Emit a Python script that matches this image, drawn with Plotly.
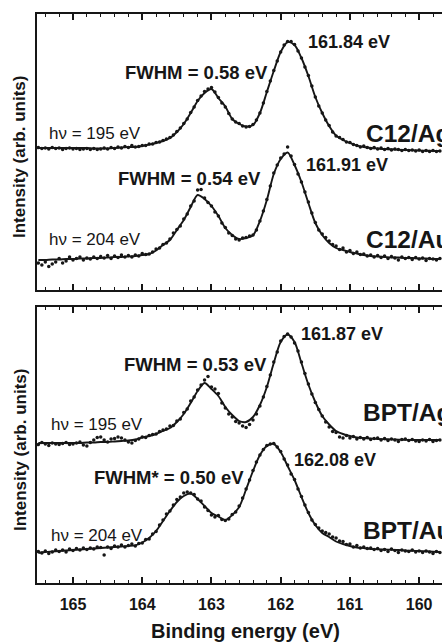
import plotly.graph_objects as go

# Energy grid of the fitted curves (eV)
FIT_E = [165.5, 165.4, 165.3, 165.2, 165.1, 165.0, 164.9, 164.8, 164.7, 164.6,
         164.5, 164.4, 164.3, 164.2, 164.1, 164.0, 163.9, 163.8, 163.7, 163.6,
         163.5, 163.4, 163.3, 163.2, 163.1, 163.0, 162.9, 162.8, 162.7, 162.6,
         162.5, 162.4, 162.3, 162.2, 162.1, 162.0, 161.9, 161.8, 161.7, 161.6,
         161.5, 161.4, 161.3, 161.2, 161.1, 161.0, 160.9, 160.8, 160.7, 160.6,
         160.5, 160.4, 160.3, 160.2, 160.1, 160.0, 159.9, 159.8, 159.7]

# Energy grid of the measured points (eV)
DOT_E = [165.50, 165.45, 165.40, 165.35, 165.30, 165.25, 165.20, 165.15, 165.10, 165.05,
         165.00, 164.95, 164.90, 164.85, 164.80, 164.75, 164.70, 164.65, 164.60, 164.55,
         164.50, 164.45, 164.40, 164.35, 164.30, 164.25, 164.20, 164.15, 164.10, 164.05,
         164.00, 163.95, 163.90, 163.85, 163.80, 163.75, 163.70, 163.65, 163.60, 163.55,
         163.50, 163.45, 163.40, 163.35, 163.30, 163.25, 163.20, 163.15, 163.10, 163.05,
         163.00, 162.95, 162.90, 162.85, 162.80, 162.75, 162.70, 162.65, 162.60, 162.55,
         162.50, 162.45, 162.40, 162.35, 162.30, 162.25, 162.20, 162.15, 162.10, 162.05,
         162.00, 161.95, 161.90, 161.85, 161.80, 161.75, 161.70, 161.65, 161.60, 161.55,
         161.50, 161.45, 161.40, 161.35, 161.30, 161.25, 161.20, 161.15, 161.10, 161.05,
         161.00, 160.95, 160.90, 160.85, 160.80, 160.75, 160.70, 160.65, 160.60, 160.55,
         160.50, 160.45, 160.40, 160.35, 160.30, 160.25, 160.20, 160.15, 160.10, 160.05,
         160.00, 159.95, 159.90, 159.85, 159.80, 159.75, 159.70]

# ---------- upper panel ----------
C12_AG_FIT = [142, 142, 142, 142, 142, 142, 142, 142, 141.5, 141.5,
              141.5, 142, 142.5, 143, 143, 144, 145.4, 147, 149, 152,
              158, 166, 177, 189, 197, 201, 192, 183.5, 171, 166,
              163.5, 165, 177, 198, 219, 238, 248, 245, 232, 214,
              193, 177, 164, 154.4, 150, 147, 144.4, 143, 142, 141.5,
              141, 140.7, 140.3, 140, 139.7, 139.5, 139.3, 139, 139]
C12_AG_DOTS = [142.5, 141.5, 142, 141, 142.5, 141.5, 142, 140.5, 141.5, 142,
               141, 141.5, 140.5, 141, 141.5, 140.5, 141.5, 140.5, 141, 142,
               141, 142.5, 141.5, 143, 142, 143.5, 142.5, 144.5, 143, 143.5,
               144.5, 144.5, 146, 146, 147.5, 148, 149.5, 151, 152.5, 155,
               158.5, 162, 166.5, 171, 177.5, 183, 189.5, 194, 198.5, 201,
               202.5, 198, 192.5, 187, 183, 176.5, 171, 168, 166.5, 164,
               163, 163.5, 165.5, 170, 177, 187, 198.5, 209, 219.5, 229,
               238, 245, 248.5, 248.5, 245.5, 239, 232, 223, 214.5, 204,
               193, 184, 177, 170, 164.5, 158, 154, 152.5, 150.5, 148,
               147.5, 145.5, 144.5, 143, 144, 142.5, 141.5, 142.5, 141, 142,
               140.5, 141.5, 140, 141, 140.5, 139.5, 140.5, 139.5, 140, 139,
               140, 138.5, 139.5, 138.5, 139.5, 138.5, 139]

C12_AU_FIT = [30, 30, 30.5, 30.5, 31, 31, 31.5, 31.5, 32, 32,
              32.5, 33, 33, 33.5, 34, 35, 36, 39.5, 45, 50,
              60, 70, 83, 95, 91, 84, 74, 62, 55, 51,
              52, 54.7, 69, 90, 116, 131, 137.5, 125, 108, 87,
              67, 55, 47, 42, 40, 38, 36.5, 35, 34, 33.5,
              33, 32.5, 32.5, 32, 32, 31.5, 31.5, 31, 31]
C12_AU_DOTS = [27, 25, 28, 23.5, 26, 28, 31.5, 27, 29, 33,
               30, 31.5, 33, 30, 32, 31, 33, 31.5, 33.5, 32,
               34.5, 31.5, 34, 32.5, 35, 33, 34.5, 33, 35, 34,
               36.5, 35.5, 36, 38, 41, 42, 45.5, 47, 51, 57,
               60.5, 64, 71, 76, 84, 89, 100, 100.5, 92, 87.5,
               84, 78, 74, 67, 62.5, 57, 54.5, 51, 50, 52,
               52.5, 54, 55, 60, 69, 79, 90.5, 104, 117, 125,
               132, 136, 143, 134, 125.5, 116, 108, 98, 88, 77,
               67.5, 60, 56, 52.5, 49, 45.5, 44, 40.5, 42, 38,
               39.5, 36.5, 38, 35.5, 36, 34, 35, 33, 34.5, 32.5,
               34, 31.5, 33.5, 32, 30, 33, 31.5, 32.5, 30.5, 32.5,
               31, 32, 29.5, 31.5, 31, 30, 31.5]

# ---------- lower panel ----------
BPT_AG_FIT = [140, 140, 140, 140, 140, 140, 140, 140.5, 140.5, 141,
              141, 141.5, 142, 142.5, 143.5, 145.5, 147, 149, 152, 155,
              161, 169, 180, 192, 200, 194, 187, 176, 168, 162,
              161, 166, 178, 196, 220, 241, 248.5, 241, 220, 198.5,
              181, 167, 158.5, 152, 149, 147, 145.5, 145, 144.5, 144,
              143.8, 143.6, 143.4, 143.2, 143, 143, 143, 143, 143]
BPT_AG_DOTS = [138.5, 140.5, 139, 137.5, 140, 139, 138.5, 139.5, 140.5, 138.5,
               139, 140, 141, 138, 137, 140.5, 143, 145.5, 146, 143,
               141, 144, 144.5, 146, 145, 143, 141, 140, 142.5, 144,
               146, 145.5, 147.5, 148.5, 149, 151.5, 153, 154, 157, 157.5,
               162, 164, 170.5, 174, 182, 186, 193, 198, 203, 206.5,
               196, 194, 189.5, 180, 175, 169, 166, 161.5, 160, 157,
               155.5, 158.5, 163, 169, 177, 186, 196.5, 208, 221, 231,
               242, 246.5, 249, 246, 240, 232, 221, 209.5, 199, 189,
               180.5, 173.5, 167, 161, 156, 151.5, 150.5, 146, 145, 147.5,
               145, 146.5, 144, 145.5, 144, 145.5, 143.5, 144.5, 145, 143,
               144.5, 142.5, 144, 143, 141.5, 143.5, 144, 142.5, 143.5, 142,
               141.5, 143, 142, 143.5, 141.5, 142.5, 143]

BPT_AU_FIT = [30, 31, 31.5, 32, 32.5, 33, 33.5, 34, 34.5, 35,
              35.5, 36, 36.5, 37, 37.7, 40.5, 45, 52, 62, 72,
              81, 87, 89.5, 84, 77, 70, 66.5, 63, 68, 76,
              93.5, 112, 128, 137, 139, 131, 117, 103, 86, 70,
              58, 50, 46, 41.5, 39, 37, 35.5, 35, 34, 33.8,
              33.5, 33.2, 33, 32.5, 32.2, 32, 31.7, 31.3, 31]
BPT_AU_DOTS = [31.5, 30, 32, 29.5, 31, 33, 31.5, 33, 31, 34,
               32.5, 34.5, 33, 35, 33.5, 35, 34, 36, 35.5, 28,
               36, 34.5, 37, 36, 38, 36, 37.5, 39, 37, 39.5,
               40, 43.5, 44, 49, 51.5, 58, 63, 69, 72, 78,
               83.5, 86, 90, 91, 90, 88.5, 84, 82, 76, 72.5,
               68, 66, 67.5, 63.5, 62.5, 64, 68.5, 71, 77, 85,
               94, 103, 112.5, 121, 128, 133.5, 137.5, 139, 139.5, 136,
               131.5, 124, 118, 109, 103.5, 94, 86.5, 78, 70.5, 63,
               58.5, 55, 52, 50.5, 49, 46, 45, 42, 41.5, 38.5,
               39, 36, 37.5, 35, 36, 34.5, 35, 33.5, 34.5, 32.5,
               33.5, 31.5, 34, 32.5, 30.5, 33, 32, 31.5, 33, 31,
               32, 30.5, 32, 31, 29.5, 31.5, 30.5]

X_TICKS = [165, 164, 163, 162, 161, 160]
X_TICK_TEXT = ["165", "164", "163", "162", "161", "160"]

INK = "#161616"
FONT = "Liberation Sans, Arial, sans-serif"

fig = go.Figure()
series = [
    (C12_AG_DOTS, C12_AG_FIT, "x", "y"),
    (C12_AU_DOTS, C12_AU_FIT, "x", "y"),
    (BPT_AG_DOTS, BPT_AG_FIT, "x2", "y2"),
    (BPT_AU_DOTS, BPT_AU_FIT, "x2", "y2"),
]
for dots, fit, xa, ya in series:
    fig.add_trace(go.Scatter(x=DOT_E, y=dots, mode="markers",
                             marker=dict(size=3.5, color=INK),
                             xaxis=xa, yaxis=ya, showlegend=False, hoverinfo="skip"))
    fig.add_trace(go.Scatter(x=FIT_E, y=fit, mode="lines",
                             line=dict(color=INK, width=1.9, shape="spline", smoothing=0.8),
                             xaxis=xa, yaxis=ya, showlegend=False, hoverinfo="skip"))

W, H = 442, 644
m_l, m_r, m_t, m_b = 37, 0, 14, 61
plot_h = H - m_t - m_b
panel_h = 276
d_top = [1 - panel_h / plot_h, 1]
d_bot = [0, panel_h / plot_h]

xcommon = dict(range=[165.52, 159.67], showline=True, linecolor=INK, linewidth=1.8,
               mirror="ticks", ticks="inside", ticklen=6, tickwidth=1.5, tickcolor=INK,
               tickvals=X_TICKS, ticktext=X_TICK_TEXT,
               minor=dict(dtick=0.2, tick0=160, ticks="inside", ticklen=3,
                          tickwidth=1.3, tickcolor=INK, showgrid=False),
               showgrid=False, zeroline=False, fixedrange=True)
ycommon = dict(range=[0, panel_h], showline=True, linecolor=INK, linewidth=1.8,
               mirror=False, ticks="", showticklabels=False, showgrid=False,
               zeroline=False, fixedrange=True)

fig.update_layout(
    width=W, height=H,
    margin=dict(l=m_l, r=m_r, t=m_t, b=m_b),
    paper_bgcolor="white", plot_bgcolor="white",
    font=dict(family=FONT, color=INK),
    xaxis=dict(xcommon, anchor="y", showticklabels=False),
    xaxis2=dict(xcommon, anchor="y2", showticklabels=True, ticklabelstandoff=6,
                tickfont=dict(family=FONT, size=16, color=INK, weight="bold")),
    yaxis=dict(ycommon, domain=d_top, anchor="x"),
    yaxis2=dict(ycommon, domain=d_bot, anchor="x2"),
)

def lab(text, x, y, xref, yref, size, bold=True, xanchor="left"):
    fig.add_annotation(text=text, x=x, y=y, xref=xref, yref=yref, showarrow=False,
                       xanchor=xanchor, yanchor="middle",
                       font=dict(family=FONT, size=size, color=INK,
                                 weight="bold" if bold else "normal"))

# upper panel labels
lab("161.84 eV", 161.64, 248, "x", "y", 18)
lab("FWHM = 0.58 eV", 163.215, 218, "x", "y", 18.5, xanchor="center")
lab("hν = 195 eV", 165.37, 157, "x", "y", 17, bold=False)
lab("C12/Ag", 160.79, 157, "x", "y", 24.5)
lab("161.91 eV", 161.67, 125, "x", "y", 18)
lab("FWHM = 0.54 eV", 163.316, 112, "x", "y", 18.5, xanchor="center")
lab("hν = 204 eV", 165.37, 51, "x", "y", 17, bold=False)
lab("C12/Au", 160.79, 51, "x", "y", 24.5)
# lower panel labels
lab("161.87 eV", 161.74, 249, "x2", "y2", 18)
lab("FWHM = 0.53 eV", 163.237, 218, "x2", "y2", 18.5, xanchor="center")
lab("hν = 195 eV", 165.34, 158, "x2", "y2", 17, bold=False)
lab("BPT/Ag", 160.84, 170, "x2", "y2", 24.5)
lab("162.08 eV", 161.84, 123, "x2", "y2", 18)
lab("FWHM* = 0.50 eV", 163.613, 105, "x2", "y2", 18.5, xanchor="center")
lab("hν = 204 eV", 165.34, 48, "x2", "y2", 17, bold=False)
lab("BPT/Au", 160.84, 53, "x2", "y2", 24.5)

# axis titles
plot_w = W - m_l - m_r
for yc in (157, 450):
    fig.add_annotation(text="Intensity (arb. units)", textangle=-90,
                       x=(20 - m_l) / plot_w, y=(H - m_b - yc) / plot_h,
                       xref="paper", yref="paper", showarrow=False,
                       xanchor="center", yanchor="middle",
                       font=dict(family=FONT, size=17, color=INK, weight="bold"))
fig.add_annotation(text="Binding energy (eV)", x=(245 - m_l) / plot_w,
                   y=(H - m_b - 631) / plot_h, xref="paper", yref="paper",
                   showarrow=False, xanchor="center", yanchor="middle",
                   font=dict(family=FONT, size=20, color=INK, weight="bold"))

fig.write_html("out.html")
